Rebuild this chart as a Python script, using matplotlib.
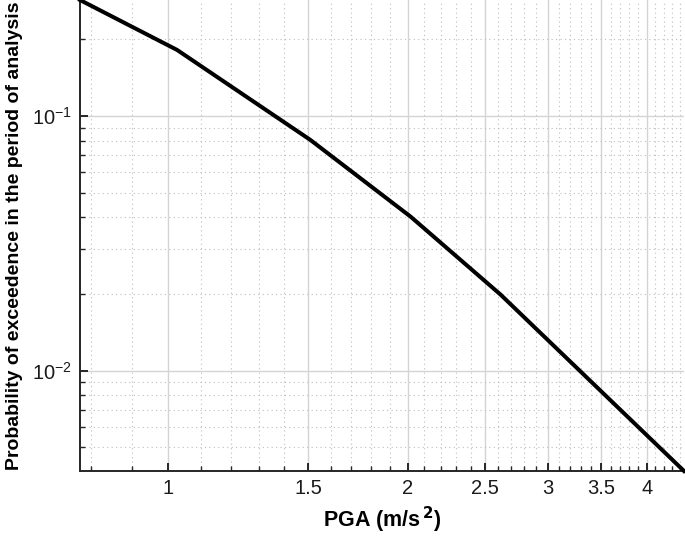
import numpy as np
import matplotlib
matplotlib.use("Agg")
import matplotlib.pyplot as plt
from matplotlib.ticker import FixedLocator, FixedFormatter, LogLocator, NullFormatter

plt.rcParams['font.family'] = ['Liberation Sans', 'DejaVu Sans']
plt.rcParams['axes.unicode_minus'] = False

# hazard curve
pga = [0.7745, 1.026, 1.509, 2.018, 2.619, 4.453]
prob = [0.2851, 0.1815, 0.0805, 0.0402, 0.01986, 0.004036]

x_major = [1, 1.5, 2, 2.5, 3, 3.5, 4]
x_labels = ["1", "1.5", "2", "2.5", "3", "3.5", "4"]
x_minor = [0.8, 0.9, 1.1, 1.2, 1.3, 1.4, 1.6, 1.7, 1.8, 1.9, 2.1, 2.2, 2.3, 2.4,
           2.6, 2.7, 2.8, 2.9, 3.1, 3.2, 3.3, 3.4, 3.6, 3.7, 3.8, 3.9, 4.1, 4.2, 4.3, 4.4]

fig = plt.figure(figsize=(6.85, 5.39), dpi=100)
ax = fig.add_axes([80 / 685, 68 / 539, 604 / 685, 471 / 539])

ax.plot(pga, prob, color="black", lw=2.9, solid_joinstyle="round", clip_on=False, zorder=5)
ax.set_xscale("log"); ax.set_yscale("log")
ax.set_xlim(pga[0], pga[-1]); ax.set_ylim(prob[-1], prob[0])

ax.xaxis.set_major_locator(FixedLocator(x_major))
ax.xaxis.set_major_formatter(FixedFormatter(x_labels))
ax.xaxis.set_minor_locator(FixedLocator(x_minor))
ax.xaxis.set_minor_formatter(NullFormatter())
ax.yaxis.set_major_locator(LogLocator(base=10))
ax.yaxis.set_minor_locator(LogLocator(base=10, subs=np.arange(2, 10)))
ax.yaxis.set_minor_formatter(NullFormatter())

ax.grid(True, which="major", color="#d4d4d4", lw=1.0, ls="-")
ax.grid(True, which="minor", color="#bdbdbd", lw=0.8, ls=(0, (1, 3)))
ax.set_axisbelow(True)

for s in ["top", "right"]:
    ax.spines[s].set_visible(False)
for s in ["left", "bottom"]:
    ax.spines[s].set_color("#262626"); ax.spines[s].set_linewidth(1.4)
ax.tick_params(which="both", direction="in", color="#262626", labelsize=14.5, labelcolor="#1a1a1a")
ax.tick_params(which="major", length=6, width=1.4, pad=6)
ax.tick_params(which="minor", length=3.5, width=1.0)

ax.set_xlabel("PGA (m/s$^{\\,\\bf 2}$)", fontsize=15.5, fontweight="bold", labelpad=5)
ax.set_ylabel("Probability of exceedence in the period of analysis", fontsize=14,
              fontweight="bold", labelpad=6)

fig.savefig("out.png", dpi=100)
